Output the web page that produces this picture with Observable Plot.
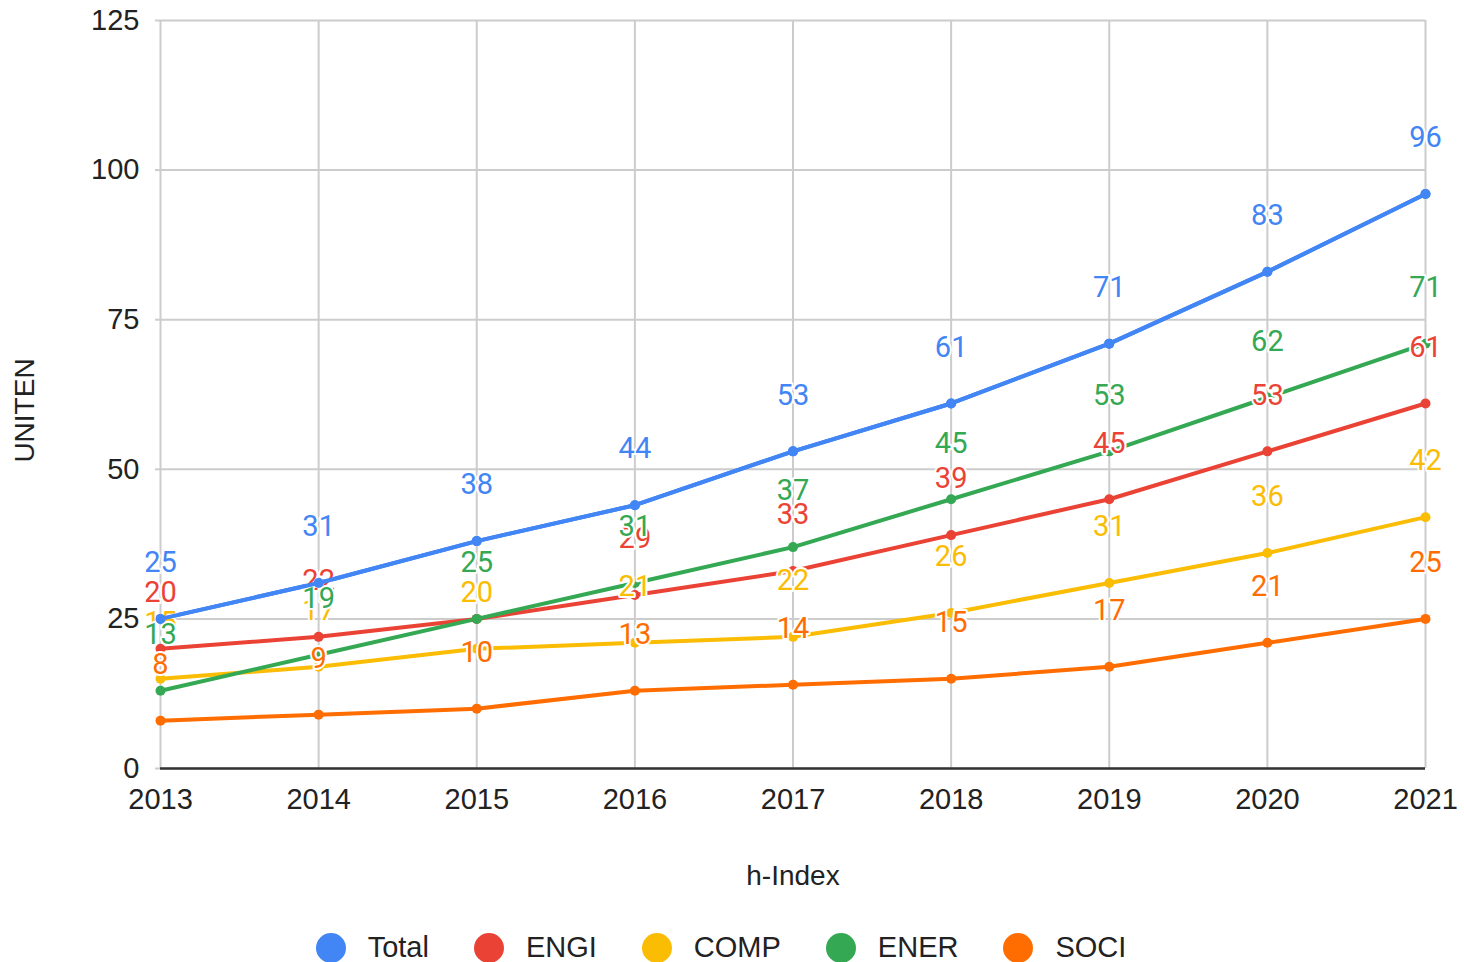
<!DOCTYPE html>
<html>
<head>
<meta charset="utf-8">
<script src="https://cdn.jsdelivr.net/npm/d3@7"></script>
<script src="https://cdn.jsdelivr.net/npm/@observablehq/plot@0.6"></script>
<style>
  html, body { margin: 0; padding: 0; background: #fff; }
  #wrap { position: relative; width: 1464px; height: 962px; overflow: hidden; }
  #legend { position: absolute; top: 931px; left: 0; width: 1442px; display: flex; justify-content: center; align-items: center;
    font-family: "Liberation Sans", Arial, sans-serif; font-size: 29px; color: #222; }
  .item { display: flex; align-items: center; margin: 0 22.5px; }
  .sw { width: 30px; height: 30px; border-radius: 50%; margin-right: 22px; }
</style>
</head>
<body>
<div id="wrap"><div id="chart"></div><div id="legend"></div></div>
<script>
const years = [2013, 2014, 2015, 2016, 2017, 2018, 2019, 2020, 2021];
const seriesNames = ["Total", "ENGI", "COMP", "ENER", "SOCI"];
const seriesColors = ["#4285F4", "#EA4335", "#FBBC04", "#34A853", "#FF6D01"];
const total = [25, 31, 38, 44, 53, 61, 71, 83, 96];
const engi  = [20, 22, 25, 29, 33, 39, 45, 53, 61];
const comp  = [15, 17, 20, 21, 22, 26, 31, 36, 42];
const ener  = [13, 19, 25, 31, 37, 45, 53, 62, 71];
const soci  = [8, 9, 10, 13, 14, 15, 17, 21, 25];
const yTicks = [0, 25, 50, 75, 100, 125];
const yTitle = "UNITEN";
const xTitle = "h-Index";

const valuesBySeries = [total, engi, comp, ener, soci];
const data = [];
seriesNames.forEach((s, i) => {
  years.forEach((yr, j) => data.push({series: s, year: yr, value: valuesBySeries[i][j]}));
});
const totalData = data.filter(d => d.series === "Total");

const chart = Plot.plot({
  width: 1464,
  height: 905,
  marginLeft: 160,
  marginRight: 39,
  marginTop: 20,
  marginBottom: 137,
  style: {fontFamily: "'Liberation Sans', Arial, sans-serif", fontSize: "29px", color: "#222", background: "#fff"},
  x: {domain: [2013, 2021]},
  y: {domain: [0, 125]},
  color: {domain: seriesNames, range: seriesColors},
  marks: [
    Plot.gridY({ticks: yTicks, stroke: "#ccc", strokeOpacity: 1, strokeWidth: 2}),
    Plot.gridX({ticks: years, stroke: "#ccc", strokeOpacity: 1, strokeWidth: 2}),
    Plot.axisY({ticks: yTicks, tickSize: 5, tickPadding: 16, stroke: "#ccc", strokeWidth: 2, fill: "#222", label: null}),
    Plot.axisX({ticks: years, tickFormat: d => String(d), tickSize: 0, tickPadding: 20, fill: "#222", label: null}),
    Plot.ruleY([0], {stroke: "#333", strokeWidth: 2.5}),
    Plot.line(data, {x: "year", y: "value", z: "series", stroke: "series", strokeWidth: 4}),
    Plot.dot(data, {x: "year", y: "value", fill: "series", r: 5}),
    Plot.text(data, {x: "year", y: "value", text: d => String(d.value), fill: "series", dy: -56,
      fontFamily: "Roboto, sans-serif", fontSize: 29, stroke: "white", strokeWidth: 4, paintOrder: "stroke"}),
    Plot.line(totalData, {x: "year", y: "value", stroke: "series", strokeWidth: 4}),
    Plot.dot(totalData, {x: "year", y: "value", fill: "series", r: 5}),
    Plot.text([yTitle], {frameAnchor: "left", textAnchor: "middle", lineAnchor: "middle", dx: -135, dy: 16, rotate: -90, fontSize: 28, fill: "#222"}),
    Plot.text([xTitle], {frameAnchor: "bottom", lineAnchor: "middle", dy: 108, fontSize: 28, fill: "#222"})
  ]
});
document.getElementById("chart").appendChild(chart);

const legend = document.getElementById("legend");
seriesNames.forEach((s, i) => {
  const item = document.createElement("div");
  item.className = "item";
  const sw = document.createElement("div");
  sw.className = "sw";
  sw.style.background = seriesColors[i];
  const t = document.createElement("span");
  t.textContent = s;
  item.appendChild(sw);
  item.appendChild(t);
  legend.appendChild(item);
});
</script>
</body>
</html>
